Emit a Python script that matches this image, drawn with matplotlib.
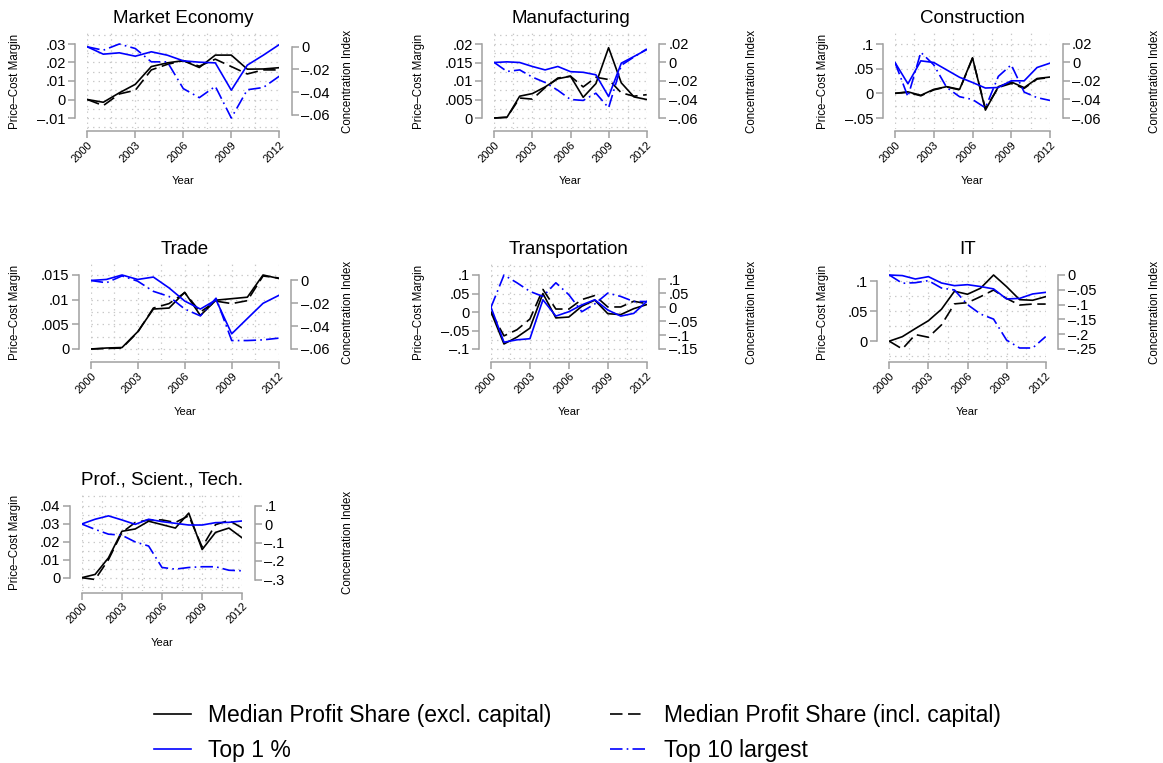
import numpy as np
import matplotlib
matplotlib.use("Agg")
import matplotlib.pyplot as plt
from matplotlib.ticker import FuncFormatter, FixedLocator

plt.rcParams["font.family"] = ["Liberation Sans", "DejaVu Sans"]
plt.rcParams["lines.scale_dashes"] = False

years = np.arange(2000, 2013)
year_ticks = [2000, 2003, 2006, 2009, 2012]

titles = ["Market Economy", "Manufacturing", "Construction", "Trade",
          "Transportation", "IT", "Prof., Scient., Tech."]

# price-cost margin (left axis): median profit share excl. / incl. capital
me_excl = [0, -0.0015, 0.0036, 0.0082, 0.0178, 0.0198, 0.021, 0.0173, 0.024, 0.024, 0.0164, 0.0165, 0.0172]
me_incl = [0, -0.0033, 0.003, 0.005, 0.016, 0.019, 0.021, 0.018, 0.0218, 0.0178, 0.0138, 0.016, 0.016]
mf_excl = [0, 0.0002, 0.0059, 0.0066, 0.0084, 0.0106, 0.0113, 0.0056, 0.0093, 0.019, 0.0095, 0.0057, 0.005]
mf_incl = [0, 0.0002, 0.0054, 0.0051, 0.0082, 0.0108, 0.0113, 0.0084, 0.011, 0.0104, 0.0068, 0.0059, 0.0063]
co_excl = [0, 0.003, -0.004, 0.008, 0.0135, 0.008, 0.072, -0.034, 0.0135, 0.023, 0.0115, 0.03, 0.033]
co_incl = [0, 0.002, -0.005, 0.007, 0.013, 0.007, 0.071, -0.031, 0.012, 0.02, 0.01, 0.029, 0.032]
tr_excl = [0, 0.0002, 0.0003, 0.0035, 0.0081, 0.0083, 0.0115, 0.0068, 0.0099, 0.0102, 0.0105, 0.015, 0.0143]
tr_incl = [0, 0.0001, 0.0002, 0.0034, 0.0083, 0.0092, 0.0114, 0.0075, 0.0097, 0.0092, 0.0098, 0.0148, 0.0144]
tp_excl = [0, -0.0864, -0.068, -0.0436, 0.05, -0.016, -0.0136, 0.0155, 0.032, -0.0045, -0.007, 0.009, 0.02]
tp_incl = [0, -0.0645, -0.048, -0.019, 0.061, 0.008, 0.008, 0.0336, 0.0445, 0.0136, 0.0136, 0.029, 0.0227]
it_excl = [0, 0.0075, 0.021, 0.034, 0.053, 0.083, 0.078, 0.088, 0.11, 0.0906, 0.069, 0.068, 0.074]
it_incl = [0, -0.013, 0.011, 0.0065, 0.027, 0.062, 0.064, 0.074, 0.085, 0.071, 0.06, 0.0617, 0.0617]
pr_excl = [0, 0.0018, 0.011, 0.0257, 0.027, 0.0313, 0.0294, 0.0275, 0.0358, 0.0156, 0.0251, 0.0275, 0.022]
pr_incl = [0, -0.001, 0.01, 0.025, 0.0306, 0.032, 0.032, 0.0306, 0.0343, 0.017, 0.0294, 0.0317, 0.0275]

# concentration index (right axis): top 1 % and top 10 largest firms
me_top1 = [0, -0.0065, -0.0053, -0.0083, -0.0044, -0.0074, -0.0124, -0.0136, -0.0142, -0.0384, -0.0162, -0.0074, 0.002]
me_top10 = [0, -0.003, 0.0025, -0.0015, -0.0133, -0.0133, -0.037, -0.045, -0.035, -0.063, -0.038, -0.036, -0.026]
mf_top1 = [0, 0.0007, 0, -0.0043, -0.008, -0.0043, -0.0099, -0.0106, -0.0133, -0.0368, -0.0007, 0.0065, 0.0139]
mf_top10 = [0, -0.0097, -0.008, -0.0158, -0.0216, -0.030, -0.040, -0.041, -0.0332, -0.049, -0.003, 0.006, 0.0146]
co_top1 = [0, -0.023, 0.0018, 0, -0.008, -0.016, -0.0216, -0.0276, -0.027, -0.0198, -0.0198, -0.0054, -0.0007]
co_top10 = [0, -0.037, 0.011, -0.0025, -0.027, -0.037, -0.04, -0.049, -0.015, -0.0025, -0.032, -0.038, -0.041]
tr_top1 = [0, 0.0009, 0.0048, 0.0009, 0.003, -0.0065, -0.018, -0.025, -0.017, -0.0467, -0.0333, -0.020, -0.0131]
tr_top10 = [0, -0.002, 0.004, -0.0006, -0.0095, -0.014, -0.025, -0.031, -0.0155, -0.0526, -0.0526, -0.052, -0.0505]
tp_top1 = [0, -0.1256, -0.117, -0.113, 0.027, -0.0317, -0.016, 0.0085, 0.027, -0.0098, -0.0317, -0.022, 0.0207]
tp_top10 = [0, 0.116, 0.088, 0.057, 0.039, 0.088, 0.045, -0.016, 0.012, 0.051, 0.039, 0.0207, 0.0207]
it_top1 = [0, -0.002, -0.0135, -0.0056, -0.027, -0.036, -0.0327, -0.039, -0.047, -0.081, -0.079, -0.064, -0.0586]
it_top10 = [0, -0.028, -0.026, -0.019, -0.044, -0.0507, -0.1, -0.132, -0.149, -0.22, -0.2466, -0.2466, -0.208]
pr_top1 = [0, 0.0257, 0.044, 0.022, -0.002, 0.0257, 0.0128, 0.0037, -0.0055, -0.0055, 0.0073, 0.009, 0.0165]
pr_top10 = [0, -0.029, -0.055, -0.0606, -0.097, -0.119, -0.235, -0.244, -0.235, -0.231, -0.231, -0.25, -0.253]

excl_series = [me_excl, mf_excl, co_excl, tr_excl, tp_excl, it_excl, pr_excl]
incl_series = [me_incl, mf_incl, co_incl, tr_incl, tp_incl, it_incl, pr_incl]
top1_series = [me_top1, mf_top1, co_top1, tr_top1, tp_top1, it_top1, pr_top1]
top10_series = [me_top10, mf_top10, co_top10, tr_top10, tp_top10, it_top10, pr_top10]

# axis ticks (start, stop, step)
pcm_ticks = [(-0.01, 0.03, 0.01), (0, 0.02, 0.005), (-0.05, 0.1, 0.05), (0, 0.015, 0.005),
             (-0.1, 0.1, 0.05), (0, 0.1, 0.05), (0, 0.04, 0.01)]
ci_ticks = [(-0.06, 0, 0.02), (-0.06, 0.02, 0.02), (-0.06, 0.02, 0.02), (-0.06, 0, 0.02),
            (-0.15, 0.1, 0.05), (-0.25, 0, 0.05), (-0.3, 0.1, 0.1)]

legend_labels = ["Median Profit Share (excl. capital)", "Top 1 %",
                 "Median Profit Share (incl. capital)", "Top 10 largest"]

# layout in pixels
W, H = 1163, 763
x_spans = [(87.3, 279.3), (494.3, 646.7), (895, 1050), (90.7, 278.7),
           (491, 646.7), (889.3, 1045.7), (81.7, 242.3)]
row_top = [44, 275, 505.5]
RANGE_H = 74
PAD = 11
left_label_x = [15, 419, 823]
right_label_x = [348, 752, 1155]

AXIS_GREY = "#a0a0a0"
GRID_GREY = "#c8c8c8"
BLUE = "#0000ff"
DASH = (0, (9, 4))
DASH_DOT = (0, (9, 3, 1.2, 3))


def stata_label(value, pos=None):
    if abs(value) < 1e-9:
        return "0"
    text = f"{abs(value):.3f}".rstrip("0").lstrip("0")
    return ("\u2013" if value < 0 else "") + text


def tick_values(spec):
    start, stop, step = spec
    return np.round(np.arange(start, stop + step / 2, step), 6)


def padded_limits(series, ticks):
    lo = min(min(min(s) for s in series), ticks[0])
    hi = max(max(max(s) for s in series), ticks[-1])
    extra = (hi - lo) * PAD / RANGE_H
    return lo - extra, hi + extra


def style_axis(axis, side, ticks):
    axis.yaxis.set_major_locator(FixedLocator(ticks))
    axis.yaxis.set_major_formatter(FuncFormatter(stata_label))
    axis.spines[side].set_position(("outward", 8.5 if side == "left" else 9))
    axis.spines[side].set_bounds(ticks[0], ticks[-1])
    axis.spines[side].set_color(AXIS_GREY)
    axis.spines[side].set_linewidth(1.1)
    axis.tick_params(axis="y", which="major", direction="out", length=4.7, width=1.1,
                     color=AXIS_GREY, labelsize=10.5, pad=2.2)
    axis.tick_params(axis="y", which="minor", length=0)


fig = plt.figure(figsize=(W / 100, H / 100), dpi=100)
legend_handles = []

for i, title in enumerate(titles):
    row, col = divmod(i, 3)
    x0, x1 = x_spans[i]
    top = row_top[row] - PAD
    bottom = row_top[row] + RANGE_H + PAD
    width = x1 - x0
    height = bottom - top
    ax = fig.add_axes([x0 / W, 1 - bottom / H, width / W, height / H])
    ax.patch.set_visible(False)

    left_ticks = tick_values(pcm_ticks[i])
    right_ticks = tick_values(ci_ticks[i])

    l_excl, = ax.plot(years, excl_series[i], color="black", lw=1.2)
    l_incl, = ax.plot(years, incl_series[i], color="black", lw=1.2, linestyle=DASH)
    ax.set_xlim(2000, 2012)
    ax.set_ylim(*padded_limits([excl_series[i], incl_series[i]], left_ticks))

    ax2 = ax.twinx()
    l_top1, = ax2.plot(years, top1_series[i], color=BLUE, lw=1.2)
    l_top10, = ax2.plot(years, top10_series[i], color=BLUE, lw=1.2, linestyle=DASH_DOT)
    ax2.set_ylim(*padded_limits([top1_series[i], top10_series[i]], right_ticks))
    if i == 0:
        legend_handles = [l_excl, l_top1, l_incl, l_top10]

    for spine in ("top", "right"):
        ax.spines[spine].set_visible(False)
    for spine in ("top", "left", "bottom"):
        ax2.spines[spine].set_visible(False)

    style_axis(ax, "left", left_ticks)
    style_axis(ax2, "right", right_ticks)

    # dotted grid at half steps
    step = pcm_ticks[i][2]
    ax.yaxis.set_minor_locator(FixedLocator(
        np.arange(left_ticks[0] - 4 * step, left_ticks[-1] + 4 * step, step / 2)))
    ax.xaxis.set_minor_locator(FixedLocator(np.arange(2000, 2012.1, 1.5)))
    ax.tick_params(axis="x", which="minor", length=0)
    ax.grid(True, which="both", color=GRID_GREY, linestyle=(0, (1, 3)), linewidth=0.9)
    ax.set_axisbelow(True)

    ax.xaxis.set_major_locator(FixedLocator(year_ticks))
    ax.spines["bottom"].set_position(("outward", 1.5))
    ax.spines["bottom"].set_bounds(2000, 2012)
    ax.spines["bottom"].set_color(AXIS_GREY)
    ax.spines["bottom"].set_linewidth(1.1)
    ax.tick_params(axis="x", which="major", direction="out", length=4.7, width=1.1,
                   color=AXIS_GREY, labelsize=8, pad=1.5)
    plt.setp(ax.get_xticklabels(), rotation=45, ha="right", rotation_mode="anchor")

    ax.set_title(title, fontsize=13.5, pad=7.2)
    ax.set_xlabel("Year", fontsize=8, va="center")
    ax.xaxis.set_label_coords(0.5, -52 / height)
    ax.set_ylabel("Price\u2013Cost Margin", fontsize=8.3, va="center")
    ax.yaxis.set_label_coords((left_label_x[col] - x0) / width, 0.5)
    ax2.set_ylabel("Concentration Index", fontsize=8.3, va="center", rotation=90)
    ax2.yaxis.set_label_coords((right_label_x[col] - x0) / width, 0.5)

fig.legend(legend_handles, legend_labels, ncol=2, loc="center left",
           bbox_to_anchor=(154 / W, 1 - 733 / H), frameon=False, fontsize=16.5,
           handlelength=1.6, handletextpad=0.75, columnspacing=2.55, labelspacing=0.55,
           borderpad=0, borderaxespad=0)

fig.savefig("out.png", dpi=100)
